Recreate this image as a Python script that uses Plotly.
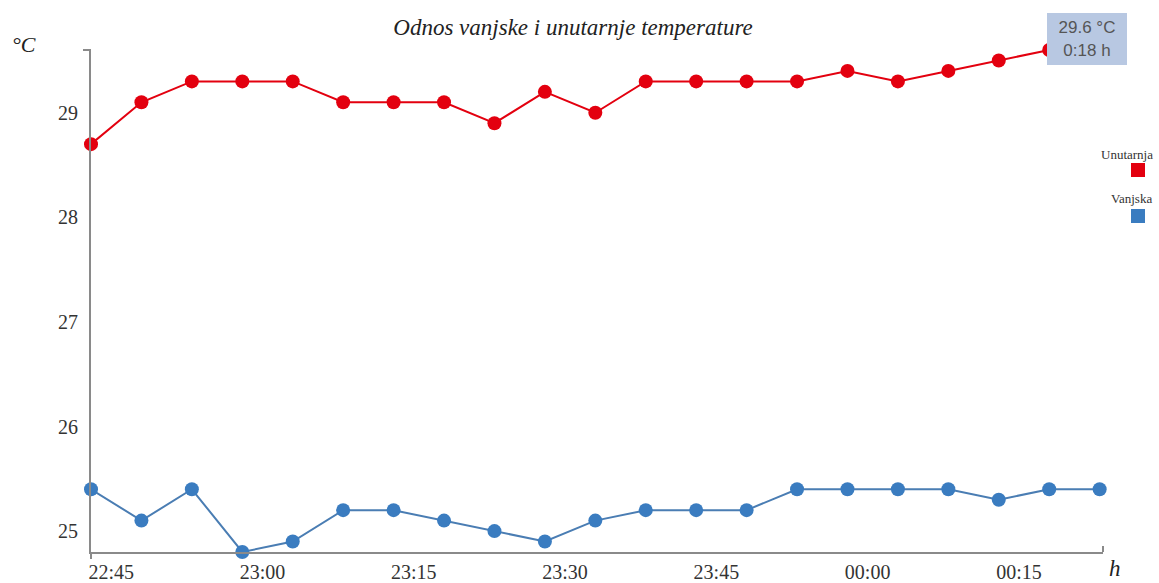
import json
import plotly.graph_objects as go
from datetime import datetime, timedelta

times = ["22:43", "22:48", "22:53", "22:58", "23:03", "23:08", "23:13", "23:18", "23:23", "23:28",
         "23:33", "23:38", "23:43", "23:48", "23:53", "23:58", "00:03", "00:08", "00:13", "00:18", "00:23"]
unutarnja = [28.7, 29.1, 29.3, 29.3, 29.3, 29.1, 29.1, 29.1, 28.9, 29.2,
             29.0, 29.3, 29.3, 29.3, 29.3, 29.4, 29.3, 29.4, 29.5, 29.6]
vanjska = [25.4, 25.1, 25.4, 24.8, 24.9, 25.2, 25.2, 25.1, 25.0, 24.9,
           25.1, 25.2, 25.2, 25.2, 25.4, 25.4, 25.4, 25.4, 25.3, 25.4, 25.4]
y_range = [24.8, 29.6]

# build datetimes with day rollover
base = datetime(2024, 1, 1)
dates = []
prev = None
day = 0
for t in times:
    h, m = map(int, t.split(":"))
    if prev is not None and h < prev:
        day = 1
    prev = h
    dates.append(base + timedelta(days=day, hours=h, minutes=m))

RED = "#e3000f"
BLUE = "#3a7cc0"
SERIF = "Liberation Serif"
AXIS = "#8a8a8a"

fig = go.Figure()
fig.add_trace(go.Scatter(x=dates[:len(unutarnja)], y=unutarnja, mode="lines+markers", name="Unutarnja",
                         line=dict(color=RED, width=2), marker=dict(color=RED, size=14),
                         cliponaxis=False, showlegend=False, hoverinfo="skip"))
fig.add_trace(go.Scatter(x=dates, y=vanjska, mode="lines+markers", name="Vanjska",
                         line=dict(color="#4a7db3", width=2), marker=dict(color=BLUE, size=14),
                         cliponaxis=False, showlegend=False, hoverinfo="skip"))

# Final geometry (window pixels)
W, H = 1159, 583
L, T, R, B = 91, 50, 56, 31
pw, ph = W - L - R, H - T - B
# Initial geometry fits inside the default 8px body margin; the post script
# removes the margin and grows the figure to the full window.
OFF = 8
W0, H0 = W - 2 * OFF, H - 2 * OFF
L0, T0, R0, B0 = L - OFF, T - OFF, R - OFF, B - OFF

def px(x):  # window x -> paper
    return (x - L) / pw

def py(y):  # window y -> paper
    return (H - B - y) / ph

TITLE_X, TITLE_Y = 573, 27

def ann(text, x, y, **kw):
    return dict(text=text, xref="paper", yref="paper", x=px(x), y=py(y), showarrow=False,
                xanchor="center", yanchor="middle", **kw)

annotations = [
    ann("°C", 24, 44, font=dict(family=SERIF, size=22, style="italic", color="#222")),
    ann("h", 1115, 568, font=dict(family=SERIF, size=23, style="italic", color="#222")),
    ann("Unutarnja", 1127, 154, font=dict(family=SERIF, size=13, color="#333")),
    ann("Vanjska", 1131, 199, font=dict(family=SERIF, size=13, color="#333")),
    dict(text="29.6 °C<br>0:18 h", x=dates[19], y=unutarnja[19], xref="x", yref="y",
         showarrow=False, xshift=38, yshift=11, width=72, height=44,
         xanchor="center", yanchor="middle",
         bgcolor="#b8c8e2", bordercolor="#b8c8e2",
         borderwidth=1, borderpad=3, font=dict(family="Liberation Sans", size=17, color="#555")),
]

shapes = [
    dict(type="rect", xref="paper", yref="paper", xsizemode="pixel", ysizemode="pixel",
         xanchor=px(1138), yanchor=py(170), x0=-7, x1=7, y0=-7, y1=7,
         fillcolor=RED, line=dict(width=0)),
    dict(type="rect", xref="paper", yref="paper", xsizemode="pixel", ysizemode="pixel",
         xanchor=px(1138), yanchor=py(216), x0=-7, x1=7, y0=-7, y1=7,
         fillcolor=BLUE, line=dict(width=0)),
    # small axis end stubs
    dict(type="line", xref="paper", yref="paper", xsizemode="pixel", xanchor=0,
         x0=-8, x1=0, y0=1, y1=1, line=dict(color=AXIS, width=2)),
    dict(type="line", xref="paper", yref="paper", ysizemode="pixel", yanchor=0,
         x0=0, x1=0, y0=0, y1=-7, line=dict(color=AXIS, width=2)),
    dict(type="line", xref="paper", yref="paper", ysizemode="pixel", yanchor=0,
         x0=1, x1=1, y0=0, y1=6, line=dict(color=AXIS, width=2)),
]

fig.update_layout(
    width=W0, height=H0,
    margin=dict(l=L0, r=R0, t=T0, b=B0, autoexpand=False),
    paper_bgcolor="white", plot_bgcolor="white",
    title=dict(text="Odnos vanjske i unutarnje temperature",
               x=(TITLE_X - OFF) / W0, xanchor="center", xref="container",
               y=1 - (TITLE_Y - OFF) / H0, yanchor="middle", yref="container",
               font=dict(family=SERIF, size=23, style="italic", color="#222")),
    annotations=annotations,
    shapes=shapes,
    hovermode=False,
    xaxis=dict(type="date", range=[dates[0], dates[-1] + timedelta(seconds=20)], tickformat="%H:%M",
               tick0=base + timedelta(hours=22, minutes=45), dtick=15 * 60 * 1000,
               showgrid=False, zeroline=False, showline=True, linecolor=AXIS, linewidth=2,
               ticks="outside", ticklen=1, tickcolor="rgba(0,0,0,0)",
               tickfont=dict(family=SERIF, size=20, color="#333")),
    yaxis=dict(range=y_range, tick0=25, dtick=1, showgrid=False, zeroline=False,
               showline=True, linecolor=AXIS, linewidth=2,
               ticks="outside", ticklen=7, tickcolor="rgba(0,0,0,0)",
               tickfont=dict(family=SERIF, size=20, color="#333")),
)

final_layout = {
    "width": W, "height": H,
    "margin.l": L, "margin.t": T, "margin.r": R, "margin.b": B,
    "title.x": TITLE_X / W, "title.y": 1 - TITLE_Y / H,
}
post = ("document.body.style.margin='0';"
        "Plotly.relayout(document.getElementById('{plot_id}'), " + json.dumps(final_layout) + ");")

fig.write_html("out.html", config={"displayModeBar": False}, post_script=post)
